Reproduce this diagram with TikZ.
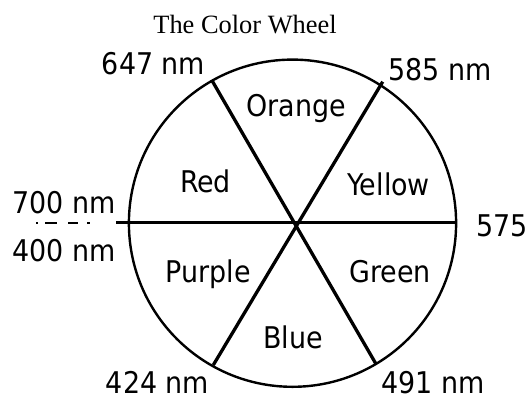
\documentclass[tikz,border=0pt]{standalone}
\usepackage{fontspec}
\setmainfont{DejaVu Sans Condensed}
\newfontfamily\titlefont{Liberation Serif}
\begin{document}
\begin{tikzpicture}[x=1pt,y=-1pt,
  lbl/.style={font=\fontsize{29.9}{32}\selectfont, inner sep=0pt, anchor=base},
  ttl/.style={font=\titlefont\fontsize{26.4}{28}\selectfont, inner sep=0pt, anchor=base},
  spoke/.style={line width=3.3pt},
  rim/.style={line width=2.4pt},
  axis/.style={line width=2.7pt}]
\useasboundingbox (0,0) rectangle (532,397);
% geometry
\coordinate (c) at (292.5,223.2);
\coordinate (tl) at (211.7,80);
\coordinate (br) at (376,364);
\coordinate (tr) at (382.7,81.7);
\coordinate (bl) at (213.3,365);
\coordinate (hl) at (116,222.8);
\coordinate (hr) at (456.5,222.8);
\coordinate (ds) at (36,222.8);
\coordinate (de) at (116,222.8);
\draw[rim] (c) circle[radius=163.6];
\draw[axis] (hl) -- (hr);
\draw[spoke] (tl) -- (br);
\draw[spoke] (tr) -- (bl);
\draw[line width=2.6pt, dash pattern=on 2pt off 7pt on 12pt off 11pt on 10pt off 9pt on 3pt off 60pt] (ds) -- (de);
% texts
\node[ttl] (title) at (245,33) {The Color Wheel};
\node[lbl] (n647) at (153.5,74.3) {647 nm};
\node[lbl] (n585) at (440,80) {585 nm};
\node[lbl] (n575) at (502.3,236.7) {575};
\node[lbl] (n700) at (64.2,213.3) {700 nm};
\node[lbl] (n400) at (64.2,261.7) {400 nm};
\node[lbl] (n424) at (157.5,393) {424 nm};
\node[lbl] (n491) at (433.3,393) {491 nm};
\node[lbl] (orange) at (296,116) {Orange};
\node[lbl] (red) at (205.5,192.3) {Red};
\node[lbl] (yellow) at (388.7,195) {Yellow};
\node[lbl] (purple) at (208.3,282.3) {Purple};
\node[lbl] (green) at (390,282.3) {Green};
\node[lbl] (blue) at (293.3,348.3) {Blue};
\end{tikzpicture}
\end{document}
